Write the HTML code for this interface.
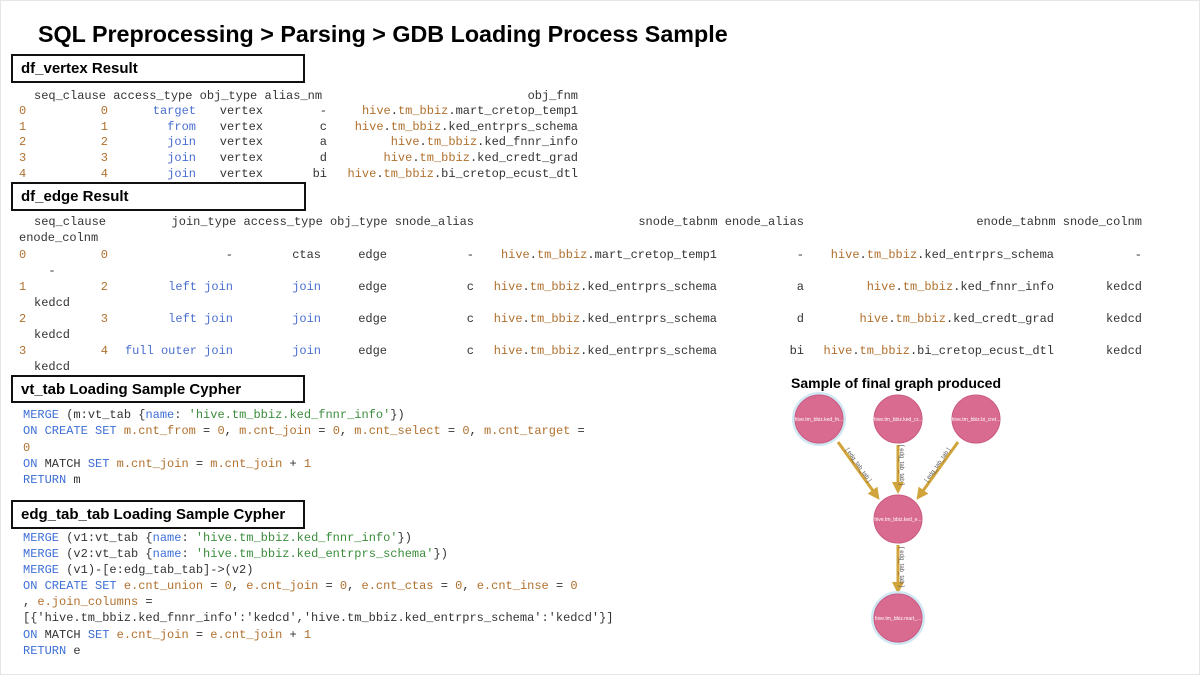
<!DOCTYPE html>
<html><head><meta charset="utf-8"><style>
body{margin:0;background:#fff}
#p{position:relative;width:1200px;height:675px;overflow:hidden;font-family:"Liberation Sans",sans-serif;border:1px solid #e6e6e6;box-sizing:border-box}
.t{position:absolute;white-space:pre}
.m{font-family:"Liberation Mono",monospace;font-size:12px;color:#333;line-height:16px}
.r{transform:translateX(-100%)}
.box{position:absolute;border:2px solid #111;box-sizing:border-box;font-weight:bold;font-size:15px;padding-left:8px;line-height:25px;color:#000}
.o{color:#b0702e}.b{color:#4a6fd0}.g{color:#3c8c3c}.k{color:#3d6fd6}
</style></head><body><div id="p">
<div class="t" style="left:37px;top:20px;font-size:23.3px;font-weight:bold;color:#000">SQL Preprocessing &gt; Parsing &gt; GDB Loading Process Sample</div>

<div class="box" style="left:10px;top:53px;width:294px;height:29px">df_vertex Result</div>
<div class="box" style="left:10px;top:181px;width:295px;height:29px">df_edge Result</div>
<div class="box" style="left:10px;top:374px;width:294px;height:28px">vt_tab Loading Sample Cypher</div>
<div class="box" style="left:10px;top:499px;width:294px;height:29px">edg_tab_tab Loading Sample Cypher</div>

<!-- vertex table -->
<div class="t m" style="left:33px;top:87px">seq_clause access_type obj_type alias_nm</div>
<div class="t m r" style="left:577px;top:87px">obj_fnm</div>
<div class="t m o" style="left:18px;top:103px;line-height:15.7px">0
1
2
3
4</div>
<div class="t m o r" style="left:107px;top:103px;line-height:15.7px;text-align:right">0
1
2
3
4</div>
<div class="t m b r" style="left:195px;top:103px;line-height:15.7px;text-align:right">target
from
join
join
join</div>
<div class="t m r" style="left:262px;top:103px;line-height:15.7px;text-align:right">vertex
vertex
vertex
vertex
vertex</div>
<div class="t m r" style="left:326px;top:103px;line-height:15.7px;text-align:right">-
c
a
d
bi</div>
<div class="t m r" style="left:577px;top:103px;line-height:15.7px;text-align:right"><span class="o">hive</span>.<span class="o">tm_bbiz</span>.mart_cretop_temp1
<span class="o">hive</span>.<span class="o">tm_bbiz</span>.ked_entrprs_schema
<span class="o">hive</span>.<span class="o">tm_bbiz</span>.ked_fnnr_info
<span class="o">hive</span>.<span class="o">tm_bbiz</span>.ked_credt_grad
<span class="o">hive</span>.<span class="o">tm_bbiz</span>.bi_cretop_ecust_dtl</div>

<!-- edge table -->
<div class="t m" style="left:33px;top:213px">seq_clause</div>
<div class="t m r" style="left:473px;top:213px">join_type access_type obj_type snode_alias</div>
<div class="t m r" style="left:803px;top:213px">snode_tabnm enode_alias</div>
<div class="t m r" style="left:1141px;top:213px">enode_tabnm snode_colnm</div>
<div class="t m" style="left:18px;top:229px">enode_colnm</div>

<div class="t m o" style="left:18px;top:238px;line-height:32px">0
1
2
3</div>
<div class="t m o r" style="left:107px;top:238px;line-height:32px;text-align:right">0
2
3
4</div>
<div class="t m b r" style="left:232px;top:238px;line-height:32px;text-align:right"><span style="color:#333">-</span>
left join
left join
full outer join</div>
<div class="t m b r" style="left:320px;top:238px;line-height:32px;text-align:right"><span style="color:#333">ctas</span>
join
join
join</div>
<div class="t m r" style="left:386px;top:238px;line-height:32px;text-align:right">edge
edge
edge
edge</div>
<div class="t m r" style="left:473px;top:238px;line-height:32px;text-align:right">-
c
c
c</div>
<div class="t m r" style="left:716px;top:238px;line-height:32px;text-align:right"><span class="o">hive</span>.<span class="o">tm_bbiz</span>.mart_cretop_temp1
<span class="o">hive</span>.<span class="o">tm_bbiz</span>.ked_entrprs_schema
<span class="o">hive</span>.<span class="o">tm_bbiz</span>.ked_entrprs_schema
<span class="o">hive</span>.<span class="o">tm_bbiz</span>.ked_entrprs_schema</div>
<div class="t m r" style="left:803px;top:238px;line-height:32px;text-align:right">-
a
d
bi</div>
<div class="t m r" style="left:1053px;top:238px;line-height:32px;text-align:right"><span class="o">hive</span>.<span class="o">tm_bbiz</span>.ked_entrprs_schema
<span class="o">hive</span>.<span class="o">tm_bbiz</span>.ked_fnnr_info
<span class="o">hive</span>.<span class="o">tm_bbiz</span>.ked_credt_grad
<span class="o">hive</span>.<span class="o">tm_bbiz</span>.bi_cretop_ecust_dtl</div>
<div class="t m r" style="left:1141px;top:238px;line-height:32px;text-align:right">-
kedcd
kedcd
kedcd</div>
<div class="t m" style="left:33px;top:254px;line-height:32px">  -
kedcd
kedcd
kedcd</div>

<!-- vt cypher -->
<div class="t m" style="left:22px;top:406px;line-height:16.3px"><span class="k">MERGE</span> (m:vt_tab {<span class="k">name</span>: <span class="g">'hive.tm_bbiz.ked_fnnr_info'</span>})
<span class="k">ON CREATE SET</span> <span class="o">m.cnt_from</span> = <span class="o">0</span>, <span class="o">m.cnt_join</span> = <span class="o">0</span>, <span class="o">m.cnt_select</span> = <span class="o">0</span>, <span class="o">m.cnt_target</span> =
<span class="o">0</span>
<span class="k">ON</span> MATCH <span class="k">SET</span> <span class="o">m.cnt_join</span> = <span class="o">m.cnt_join</span> + <span class="o">1</span>
<span class="k">RETURN</span> m</div>

<!-- edg cypher -->
<div class="t m" style="left:22px;top:529px;line-height:16.1px"><span class="k">MERGE</span> (v1:vt_tab {<span class="k">name</span>: <span class="g">'hive.tm_bbiz.ked_fnnr_info'</span>})
<span class="k">MERGE</span> (v2:vt_tab {<span class="k">name</span>: <span class="g">'hive.tm_bbiz.ked_entrprs_schema'</span>})
<span class="k">MERGE</span> (v1)-[e:edg_tab_tab]->(v2)
<span class="k">ON CREATE SET</span> <span class="o">e.cnt_union</span> = <span class="o">0</span>, <span class="o">e.cnt_join</span> = <span class="o">0</span>, <span class="o">e.cnt_ctas</span> = <span class="o">0</span>, <span class="o">e.cnt_inse</span> = <span class="o">0</span>
, <span class="o">e.join_columns</span> =
[{'hive.tm_bbiz.ked_fnnr_info':'kedcd','hive.tm_bbiz.ked_entrprs_schema':'kedcd'}]
<span class="k">ON</span> MATCH <span class="k">SET</span> <span class="o">e.cnt_join</span> = <span class="o">e.cnt_join</span> + <span class="o">1</span>
<span class="k">RETURN</span> e</div>

<div class="t" style="left:790px;top:374px;font-size:14px;font-weight:bold;color:#000">Sample of final graph produced</div>
<svg style="position:absolute;left:0;top:0" width="1200" height="675">
<defs><marker id="a" markerWidth="4" markerHeight="4" refX="2" refY="2" orient="auto"><path d="M0,0L4,2L0,4z" fill="#d1a43c"/></marker></defs>
<g stroke="#d1a43c" stroke-width="3" marker-end="url(#a)">
<line x1="837" y1="441" x2="875" y2="494"/>
<line x1="897" y1="444" x2="897" y2="487"/>
<line x1="957" y1="441" x2="919" y2="494"/>
<line x1="897" y1="544" x2="897" y2="587"/>
</g>
<g font-size="6" fill="#555" font-family="Liberation Sans">
<text x="856" y="465" transform="rotate(55 856 465)" text-anchor="middle" fill="#555">[ edg_tab_tab ]</text>
<text x="899" y="464" transform="rotate(90 899 464)" text-anchor="middle">[ edg_tab_tab ]</text>
<text x="938" y="465" transform="rotate(-55 938 465)" text-anchor="middle">[ edg_tab_tab ]</text>
<text x="899" y="566" transform="rotate(90 899 566)" text-anchor="middle">[ edg_tab_tab ]</text>
</g>
<circle cx="818" cy="418" r="27" fill="#cfe8f3"/>
<circle cx="897" cy="617" r="27" fill="#cfe8f3"/>
<g fill="#d96b91" stroke="#c95a80">
<circle cx="818" cy="418" r="24"/><circle cx="897" cy="418" r="24"/><circle cx="975" cy="418" r="24"/>
<circle cx="897" cy="518" r="24"/><circle cx="897" cy="617" r="24"/>
</g>
<g font-size="5" fill="#fff" text-anchor="middle" font-family="Liberation Sans">
<text x="818" y="420">hive.tm_bbiz.ked_fn...</text>
<text x="897" y="420">hive.tm_bbiz.ked_cr...</text>
<text x="975" y="420">hive.tm_bbiz.bi_cret...</text>
<text x="897" y="520">hive.tm_bbiz.ked_e...</text>
<text x="897" y="619">hive.tm_bbiz.mart_...</text>
</g>
</svg>
</div></body></html>
